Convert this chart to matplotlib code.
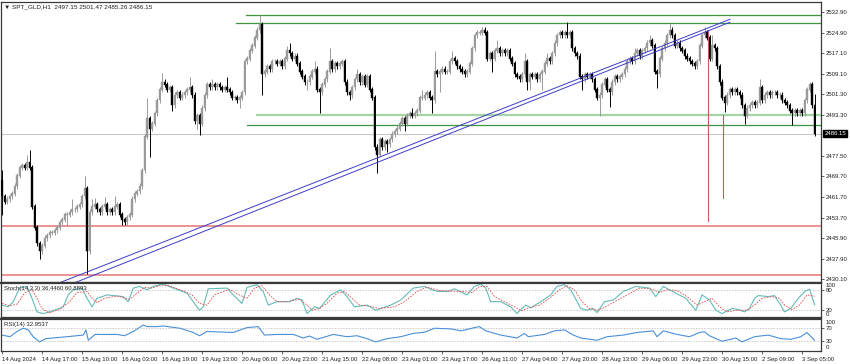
import matplotlib
matplotlib.use('Agg')
import matplotlib.pyplot as plt
import matplotlib.transforms as mtransforms
import numpy as np

plt.rcParams['font.family'] = ['Liberation Sans', 'DejaVu Sans']

# ---- price data (H1 candles) ----
first_open = 2468.0
closes = [
    2462, 2460, 2461, 2462, 2463, 2466, 2470, 2473, 2474, 2473,
    2475, 2473, 2458, 2450, 2444, 2441, 2443, 2446, 2447, 2448,
    2448, 2449, 2450, 2452, 2453, 2455, 2455, 2456, 2457, 2457,
    2458, 2459, 2462, 2465, 2441, 2456, 2458, 2459, 2457, 2456,
    2458, 2459, 2456, 2457, 2456, 2458, 2459, 2455, 2453, 2452,
    2454, 2455, 2461, 2463, 2464, 2466, 2472, 2485, 2492, 2488,
    2490, 2494, 2499, 2503, 2506, 2505, 2503, 2504, 2497, 2501,
    2502, 2500, 2501, 2502, 2503, 2504, 2501, 2491, 2493, 2490,
    2496, 2501, 2505, 2504, 2505, 2504, 2505, 2504, 2503, 2504,
    2503, 2502, 2500, 2500, 2499, 2500, 2502, 2514, 2515, 2518,
    2520, 2523, 2526, 2528, 2509, 2510, 2512, 2511, 2514, 2514,
    2513, 2514, 2512, 2515, 2518, 2517, 2515, 2516, 2513, 2510,
    2508, 2506, 2506, 2508, 2510, 2511, 2503, 2502, 2505, 2507,
    2510, 2514, 2511, 2513, 2512, 2513, 2514, 2506, 2502, 2501,
    2504, 2507, 2509, 2506, 2508, 2505, 2508, 2503, 2500, 2481,
    2478, 2484, 2481, 2483, 2482, 2484, 2486, 2487, 2488, 2490,
    2492, 2490, 2493, 2494, 2493, 2494, 2495, 2500, 2500, 2501,
    2502, 2500, 2499, 2510, 2509, 2510, 2511, 2510, 2510, 2514,
    2515, 2514, 2512, 2511, 2510, 2509, 2510, 2513, 2519, 2524,
    2525, 2525, 2526, 2525, 2515, 2517, 2515, 2518, 2519, 2517,
    2518, 2517, 2518, 2515, 2513, 2509, 2508, 2507, 2509, 2514,
    2506, 2509, 2508, 2509, 2507, 2509, 2510, 2513, 2515, 2514,
    2517, 2521, 2524, 2525, 2524, 2525, 2524, 2525, 2519, 2517,
    2516, 2508, 2507, 2509, 2508, 2509, 2507, 2503, 2500, 2501,
    2505, 2507, 2503, 2502, 2506, 2508, 2507, 2508, 2509, 2511,
    2514, 2515, 2514, 2517, 2518, 2516, 2518, 2519, 2521, 2522,
    2520, 2510, 2509, 2515, 2519, 2521, 2524, 2526, 2524, 2520,
    2521, 2519, 2518, 2516, 2515, 2514, 2513, 2512, 2514, 2520,
    2524, 2525, 2523, 2515, 2520, 2519, 2512, 2506, 2500, 2498,
    2501, 2503, 2502, 2503, 2502, 2501, 2497, 2493, 2496, 2497,
    2498, 2497, 2498, 2504, 2499, 2501, 2502, 2501, 2502, 2502,
    2501, 2501, 2499, 2498, 2497, 2495, 2494, 2495, 2494, 2495,
    2494, 2499, 2503, 2505, 2497.15, 2486.15,
]
# wick lengths above / below the body
wick_up = [
    4, 1, 1, 1, 1, 1, 1, 1, 1, 1, 3, 4.8, 1, 1, 1, 1, 1, 1, 1, 1,
    1, 1, 1, 1, 1, 1, 1, 1, 4, 1, 1, 1, 1, 5, 1, 1, 3, 2.5, 1, 1,
    1, 2.7, 1, 1, 1, 4, 1, 1, 1, 1, 1, 1, 1, 1, 1, 1, 1, 1, 8, 1,
    1, 1, 1, 1, 3.5, 1, 1, 1, 1, 1, 1, 1, 1, 1, 1, 4, 1, 1, 1, 1,
    1, 1, 1, 1, 2, 1, 1, 1, 1, 1, 4, 1, 1, 1, 1, 1, 1, 1, 1, 1,
    1, 1, 1, 3.7, 1, 1, 1, 1, 1, 1, 1, 1, 1, 1, 2, 3, 1, 1, 1, 1,
    1, 1, 1, 1, 1, 3, 1, 1, 1, 1, 1, 5, 1, 1, 1, 1, 1, 1, 1, 1,
    1, 1, 2, 1, 1, 1, 1, 1, 1, 1, 1, 1, 1, 1, 1, 1, 1, 1, 1, 1,
    1, 1, 1, 1, 2, 1, 1, 1, 3, 1, 1, 1, 1, 8, 1, 1, 1, 1, 1, 1,
    3, 1, 1, 1, 1, 1, 1, 1, 1, 1, 1, 1, 1, 1, 1, 1, 1, 1, 3, 1,
    1, 1, 1, 1, 1, 1, 1, 1, 1, 3, 1, 1, 1, 1, 1, 1, 1, 1, 2, 1,
    1, 1, 1, 1, 1, 1, 4, 1, 1, 1, 1, 1, 1, 1, 1, 1, 1, 1, 1, 1,
    1, 1, 1, 1, 1, 1, 1, 1, 1, 1, 1, 1, 1, 2, 1, 1, 1, 1, 1, 2,
    1, 1, 1, 1, 1, 1, 1, 2.5, 1, 1, 1, 1, 1, 1, 1, 1, 1, 1, 1, 1,
    1, 2, 1, 1, 4, 1, 1, 1, 1, 1, 1, 1, 1, 1, 1, 1, 1, 1, 1, 1,
    1, 1, 1, 3, 1, 1, 1, 1, 1, 1, 1, 1, 1, 1, 1, 1, 1, 1, 1, 1,
    1, 1, 1, 1, 1, 4.32,
]
wick_dn = [
    7, 1, 1, 1, 1, 1, 1, 1, 1, 1, 1, 1, 1, 1, 1, 3, 1, 1, 1, 1,
    1, 1, 1, 1, 1, 1, 4, 1, 1, 1, 1, 1, 1, 1, 9, 1, 1, 1, 1, 1,
    1, 1, 1, 1, 1, 1, 1, 1, 2, 1, 1, 1, 1, 1, 1, 1, 1, 1, 1, 11,
    1, 1, 1, 1, 1, 1, 1, 1, 2, 1, 1, 1, 1, 1, 1, 1, 1, 1, 3, 4.4,
    1, 1, 1, 1, 1, 1, 1, 1, 1, 1, 1, 1, 1, 1, 1, 3, 1, 1, 1, 1,
    1, 1, 1, 1, 8, 1, 1, 1, 1, 1, 1, 1, 1, 1, 1, 1, 1, 1, 1, 1,
    1, 1, 3, 1, 1, 1, 1, 8, 1, 1, 1, 1, 1, 1, 1, 1, 1, 1, 1, 2,
    1, 1, 1, 1, 1, 1, 1, 1, 1, 1, 7, 1, 1, 1, 3, 1, 1, 1, 1, 1,
    1, 3, 1, 1, 1, 1, 1, 1, 1, 1, 1, 1, 5, 1, 1, 7, 1, 1, 1, 1,
    1, 1, 1, 1, 1, 1, 1, 1, 1, 1, 1, 1, 1, 1, 1, 1, 5, 1, 1, 1,
    1, 1, 1, 1, 1, 1, 1, 1, 1, 1, 3, 3, 1, 1, 1, 1, 6, 1, 1, 1,
    1, 1, 1, 1, 1, 1, 1, 1, 1, 1, 1, 1, 4, 1, 1, 1, 1, 1, 1, 7,
    1, 1, 1, 5.5, 1, 1, 1, 1, 1, 1, 1, 1, 1, 1, 1, 1, 1, 1, 1, 1,
    1, 1, 5.5, 1, 1, 1, 1, 1, 1, 1, 1, 1, 1, 1, 1, 1, 1, 1, 1, 1,
    1, 1, 1, 1, 1, 1, 1, 1, 1, 3.5, 1, 1, 1, 1, 1, 1, 1, 3, 1, 1,
    1, 1, 1, 1, 1, 1, 1, 1, 1, 1, 1, 1, 1, 1, 1, 1, 4.5, 1, 1, 1,
    1, 1, 1, 1, 1, 0.89,
]

# ---- indicator lines read from the sub-windows (bar position, value) ----
stoch_k_x = [0, 2.5, 4.5, 7, 10, 12, 14, 16.5, 19, 24.5, 26.5, 28.5, 32, 34, 36, 38, 42, 48.5, 50.5, 52.5,
             55, 58, 60.5, 64.5, 68.5, 74, 76.5, 79, 80.5, 82.5, 90, 92.5, 96, 98, 102, 104.5, 106.5, 110, 115, 118,
             120, 122, 125, 127, 131.5, 135.5, 138, 141, 146, 149.5, 155.5, 159.5, 164.5, 169, 172, 174.5, 178.5, 181, 186, 189,
             191.5, 193.5, 195.5, 199.5, 203.5, 206, 208, 209.5, 211.5, 215.5, 219.5, 222, 225, 227.5, 231.5, 234, 236.5, 238, 241, 244.5,
             248.5, 253.5, 259, 261.5, 264.5, 269.5, 273.5, 277.5, 280, 283, 285.5, 288, 292, 294.5, 297, 299, 301, 302.5, 306.5, 309,
             311.5, 313, 315.5, 318, 321, 323, 325]
stoch_k = [35, 30, 45, 85, 90, 55, 15, 10, 15, 30, 65, 80, 85, 55, 30, 55, 65, 60, 45, 85,
           90, 80, 90, 97, 85, 70, 45, 20, 30, 83, 85, 65, 40, 87, 95, 75, 35, 45, 45, 55,
           50, 10, 30, 25, 65, 80, 60, 30, 35, 20, 35, 50, 85, 90, 80, 75, 75, 83, 65, 90,
           97, 85, 45, 45, 30, 10, 25, 35, 27, 45, 65, 90, 95, 80, 25, 20, 25, 13, 45, 50,
           75, 90, 85, 60, 90, 70, 55, 20, 65, 50, 20, 10, 25, 22, 15, 25, 55, 63, 60, 63,
           35, 15, 25, 50, 75, 82, 36.4]
stoch_d_x = [0, 3, 6, 9, 12, 14, 16, 19, 23, 27, 30, 34, 36, 38, 41, 46, 51, 54, 57, 60,
             63, 67, 72, 76, 79, 82, 85, 91, 94, 98, 101, 104, 107, 110, 114, 119, 122, 124, 127, 130,
             134, 137, 140, 143, 147, 151, 157, 161, 166, 170, 175, 180, 184, 188, 191, 194, 197, 201, 205, 208,
             211, 215, 219, 223, 226, 229, 232, 235, 238, 241, 245, 250, 255, 260, 263, 266, 270, 274, 278, 281,
             284, 287, 290, 294, 298, 301, 304, 308, 311, 313, 316, 319, 322, 325]
stoch_d = [40, 33, 38, 70, 80, 55, 25, 12, 22, 45, 72, 75, 55, 42, 55, 62, 52, 70, 87, 85,
           92, 92, 78, 65, 40, 35, 65, 82, 68, 55, 85, 92, 65, 45, 45, 52, 35, 20, 25, 40,
           70, 75, 55, 35, 32, 25, 30, 45, 75, 88, 78, 76, 75, 72, 90, 90, 60, 45, 30, 18,
           28, 35, 55, 80, 92, 80, 45, 25, 20, 28, 45, 65, 85, 82, 72, 80, 78, 60, 35, 45,
           55, 30, 15, 20, 20, 35, 55, 60, 55, 35, 22, 35, 65, 60.9]
rsi_x = [0, 3.2, 6, 8.5, 10.5, 12.5, 15, 17.5, 26, 32.5, 33.6, 34.5, 37.2, 46, 49, 52.5, 56.5, 58, 62, 64.5,
         71.2, 76.5, 79, 82, 92.5, 98, 102.5, 105, 110, 116.5, 120.5, 123, 126, 132.5, 138, 142, 146, 149.5, 154, 159.5,
         164.5, 169, 173, 179.6, 183.6, 189, 191, 193.5, 199.5, 206, 209, 210.5, 217, 221, 225, 228.5, 231.5, 238, 242, 248.5,
         254, 260.5, 262, 264.5, 270, 275, 279, 281, 283, 288, 293.6, 296, 301, 306.5, 311.5, 315.5, 319.5, 322, 325]
rsi = [49, 44, 60, 70, 65, 44, 28, 38, 44, 49, 65, 33, 51, 51, 47, 60, 80, 75, 75, 77,
       70, 57, 47, 60, 57, 72, 75, 49, 51, 51, 40, 46, 36, 51, 44, 47, 38, 28, 38, 44,
       54, 58, 70, 68, 62, 72, 75, 62, 49, 40, 54, 44, 51, 62, 65, 49, 40, 33, 44, 49,
       57, 62, 44, 62, 51, 44, 57, 59, 47, 30, 40, 28, 44, 49, 38, 36, 44, 57, 32.95]

# ---- drawn objects ----
green_levels = [2531.6, 2528.55, 2489.6]
green_starts = [97.6, 93.6, 98.0]
light_green_level, light_green_start = 2493.3, 102.0
red_levels = [2450.7, 2431.7]
red_verticals = [(282.5, 2526.0, 2452.6), (288.5, 2493.3, 2461.5)]
trend_upper = ([20.0, 291.2], [2427.6, 2530.1])
trend_lower = ([25.0, 291.2], [2427.2, 2529.0])
last_price = 2486.15

price_ticks = [2532.90, 2524.90, 2517.10, 2509.10, 2501.30, 2493.30, 2477.50,
               2469.70, 2461.70, 2453.70, 2445.90, 2437.90, 2430.10]
time_labels = ['14 Aug 2024', '14 Aug 17:00', '15 Aug 10:00', '16 Aug 03:00', '16 Aug 19:00',
               '19 Aug 13:00', '20 Aug 06:00', '20 Aug 23:00', '21 Aug 15:00', '22 Aug 08:00',
               '23 Aug 01:00', '23 Aug 17:00', '26 Aug 11:00', '27 Aug 04:00', '27 Aug 20:00',
               '28 Aug 13:00', '29 Aug 06:00', '29 Aug 23:00', '30 Aug 15:00', '2 Sep 09:00',
               '3 Sep 05:00']

# ---- figure ----
W, H = 850, 364
fig = plt.figure(figsize=(W / 100, H / 100), dpi=100)
fig.patch.set_facecolor('white')

def box(x0, y0, x1, y1):
    return [x0 / W, 1 - y1 / H, (x1 - x0) / W, (y1 - y0) / H]

ax = fig.add_axes(box(1, 2, 821, 282))
ax_st = fig.add_axes(box(1, 283, 821, 317))
ax_rsi = fig.add_axes(box(1, 318.5, 821, 351))

FS = 4.3
frame = '#3a3a3a'
XL = (-0.4, 327.6)

for a in (ax, ax_st, ax_rsi):
    a.set_xlim(*XL)
    a.yaxis.tick_right()
    for s in a.spines.values():
        s.set_color(frame)
        s.set_linewidth(0.9)
    a.tick_params(axis='y', direction='out', length=2, width=0.5, pad=1.5,
                  labelsize=FS, colors='#202020')
    a.set_facecolor('white')
ax.tick_params(axis='x', bottom=False, labelbottom=False)
ax_st.tick_params(axis='x', bottom=False, labelbottom=False)
ax_st.spines['top'].set_linewidth(1.6)
ax_rsi.spines['top'].set_linewidth(1.6)

# candles
closes = np.array(closes, dtype=float)
opens = np.concatenate([[first_open], closes[:-1]])
highs = np.maximum(opens, closes) + np.array(wick_up)
lows = np.minimum(opens, closes) - np.array(wick_dn)
idx = np.arange(len(closes))
bull = closes >= opens
col = np.where(bull, '#9a9a9a', '#000000')
ax.vlines(idx, lows, highs, colors=col, linewidth=0.7, zorder=3)
ax.bar(idx, np.abs(closes - opens) + 0.15, bottom=np.minimum(opens, closes),
       width=0.75, color=col, edgecolor=col, linewidth=0.3, zorder=4)

ax.set_ylim(2429.05, 2536.75)
ax.set_yticks(price_ticks)
ax.set_yticklabels([f'{v:.2f}' for v in price_ticks])

# horizontal / trend objects
for lvl, x0 in zip(green_levels, green_starts):
    ax.plot([x0, XL[1]], [lvl, lvl], color='#3f963f', linewidth=0.9, zorder=2)
ax.plot([light_green_start, XL[1]], [light_green_level] * 2, color='#a3d6a3',
        linewidth=1.6, zorder=2)
for lvl in red_levels:
    ax.axhline(lvl, color='#e58080', linewidth=1.2, zorder=2)
ax.axhline(last_price, color='#c8c8c8', linewidth=0.8, zorder=1)
for xv, y0, y1 in red_verticals:
    ax.plot([xv, xv], [y0, y1], color='#d05a5a', linewidth=0.8, zorder=5)
ax.plot(*trend_upper, color='#3c3cc8', linewidth=0.7, zorder=5)
ax.plot(*trend_lower, color='#3c3cc8', linewidth=0.7, zorder=5)

tr = mtransforms.blended_transform_factory(ax.transAxes, ax.transData)
ax.text(1.004, last_price, f'{last_price:.2f}', transform=tr, fontsize=FS,
        color='white', va='center', ha='left', zorder=10,
        bbox=dict(boxstyle='square,pad=0.15', facecolor='black', edgecolor='black'))

ax.text(0.004, 0.982, '\u25bc SPT_GLD,H1  2497.15 2501.47 2485.26 2486.15',
        transform=ax.transAxes, fontsize=4.6, color='#202020', va='center', ha='left')

# stochastic
ax_st.set_ylim(0, 100)
for lv in (80, 20):
    ax_st.axhline(lv, color='#b0b0b0', linewidth=0.5, linestyle=(0, (2, 2)))
ax_st.plot(stoch_k_x, stoch_k, color='#63bcb8', linewidth=0.8)
ax_st.plot(stoch_d_x, stoch_d, color='#e04a4a', linewidth=0.6, linestyle=(0, (2, 1.5)))
ax_st.set_yticks([80, 20])
ax_st.set_yticklabels(['80', '20'])
trs = mtransforms.blended_transform_factory(ax_st.transAxes, ax_st.transData)
ax_st.text(1.006, 99, '100', transform=trs, fontsize=FS, va='top', ha='left', color='#202020')
ax_st.text(1.006, 1, '0', transform=trs, fontsize=FS, va='bottom', ha='left', color='#202020')
ax_st.text(0.004, 0.85, 'Stoch(14,3,3) 36.4460 60.8893', transform=ax_st.transAxes,
           fontsize=FS, color='#202020', va='center', ha='left')

# RSI
ax_rsi.set_ylim(0, 100)
for lv in (70, 30):
    ax_rsi.axhline(lv, color='#b0b0b0', linewidth=0.5, linestyle=(0, (2, 2)))
ax_rsi.plot(rsi_x, rsi, color='#4a90d8', linewidth=0.8)
ax_rsi.set_yticks([70, 30])
ax_rsi.set_yticklabels(['70', '30'])
trr = mtransforms.blended_transform_factory(ax_rsi.transAxes, ax_rsi.transData)
ax_rsi.text(1.006, 88, '100', transform=trr, fontsize=FS, va='center', ha='left', color='#202020')
ax_rsi.text(1.006, 12, '0', transform=trr, fontsize=FS, va='center', ha='left', color='#202020')
ax_rsi.text(0.004, 0.82, 'RSI(14) 32.9537', transform=ax_rsi.transAxes,
            fontsize=FS, color='#202020', va='center', ha='left')

ax_rsi.set_xticks(np.arange(len(time_labels)) * 16)
ax_rsi.set_xticklabels(time_labels, ha='left')
ax_rsi.tick_params(axis='x', direction='out', length=2, width=0.5, pad=2,
                   labelsize=FS, colors='#202020')

fig.savefig('out.png', dpi=100, facecolor='white')
plt.close(fig)
